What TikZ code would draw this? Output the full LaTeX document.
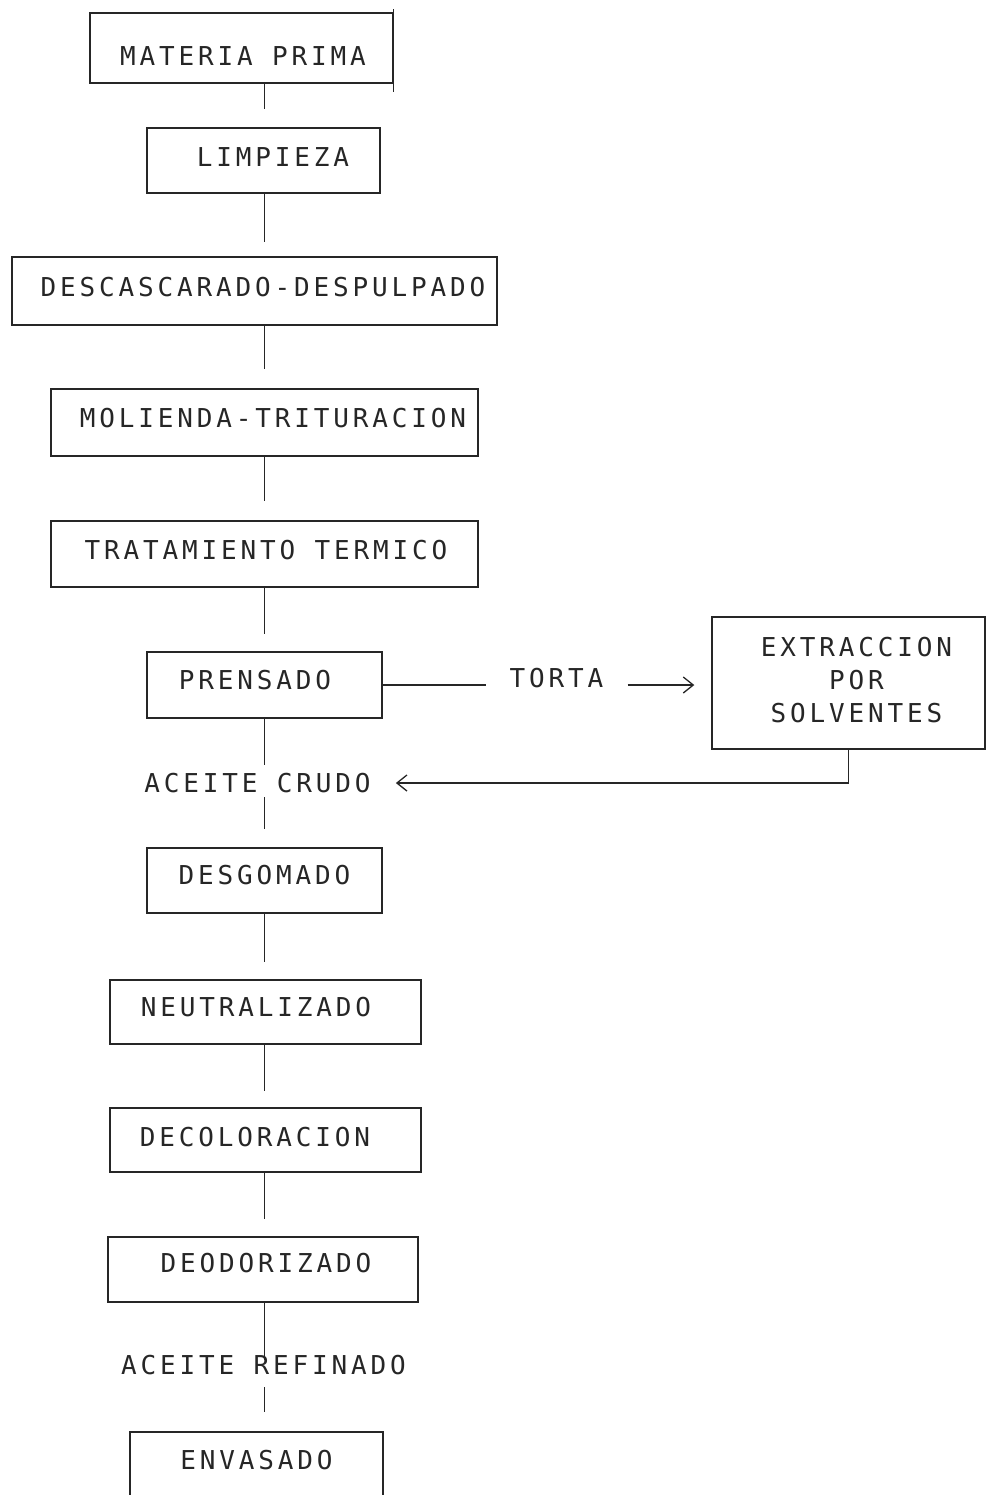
\documentclass[tikz,border=0pt]{standalone}
\usepackage{fontspec}
\newfontfamily\dotfont[LetterSpace=14.8]{DejaVu Sans Mono}
\usetikzlibrary{arrows.meta}
\begin{document}
\begin{tikzpicture}[x=1pt,y=-1pt,
  stagebox/.style={draw=black!85, line width=1.4pt, inner sep=0pt},
  lbl/.style={font=\dotfont\fontsize{26}{33}\selectfont, text=black!85, inner sep=0pt},
  flow/.style={draw=black!85, line width=1.4pt},
  barb/.style={-{Straight Barb[length=10pt,width=16pt,line width=1.3pt]}}
]
\useasboundingbox (0,0) rectangle (992,1495);
\clip (0,0) rectangle (992,1495);

\coordinate (spine) at (264.5,0);

% process stages
\node[stagebox, minimum width=303pt, minimum height=70pt,
  label={[lbl,xshift=1.5pt,yshift=-8pt]center:MATERIA PRIMA}] (mp) at (241.5,48) {};
\node[stagebox, minimum width=233pt, minimum height=65pt,
  label={[lbl,xshift=9.5pt,yshift=3.5pt]center:LIMPIEZA}] (limp) at (263.5,160.5) {};
\node[stagebox, minimum width=485pt, minimum height=68pt,
  label={[lbl,xshift=8.5pt,yshift=4pt]center:DESCASCARADO-DESPULPADO}] (desc) at (254.5,291) {};
\node[stagebox, minimum width=427pt, minimum height=67pt,
  label={[lbl,xshift=8.5pt,yshift=4.5pt]center:MOLIENDA-TRITURACION}] (mol) at (264.5,422.5) {};
\node[stagebox, minimum width=427pt, minimum height=66pt,
  label={[lbl,xshift=1.5pt,yshift=4pt]center:TRATAMIENTO TERMICO}] (trat) at (264.5,554) {};
\node[stagebox, minimum width=235pt, minimum height=66pt,
  label={[lbl,xshift=-9.5pt,yshift=5pt]center:PRENSADO}] (pren) at (264.5,685) {};
\node[stagebox, minimum width=273pt, minimum height=132pt,
  label={[lbl,align=center,xshift=8pt,yshift=3pt]center:{EXTRACCION\\POR\\SOLVENTES}}] (ext) at (848.5,683) {};
\node[stagebox, minimum width=235pt, minimum height=65pt,
  label={[lbl,xshift=0pt,yshift=5.5pt]center:DESGOMADO}] (desg) at (264.5,880.5) {};
\node[stagebox, minimum width=311pt, minimum height=64pt,
  label={[lbl,xshift=-9.5pt,yshift=5pt]center:NEUTRALIZADO}] (neut) at (265.5,1012) {};
\node[stagebox, minimum width=311pt, minimum height=64pt,
  label={[lbl,xshift=-10.5pt,yshift=3pt]center:DECOLORACION}] (deco) at (265.5,1140) {};
\node[stagebox, minimum width=310pt, minimum height=65pt,
  label={[lbl,xshift=3pt,yshift=6.5pt]center:DEODORIZADO}] (deod) at (263,1269.5) {};
\node[stagebox, minimum width=253pt, minimum height=88pt,
  label={[lbl,xshift=0pt,yshift=16pt]center:ENVASADO}] (envs) at (256.5,1476) {};

% the first box's right side runs past its corners
\draw[flow] ([yshift=3pt]mp.north east) -- ([yshift=-8pt]mp.south east);

% stream names
\node[lbl] (torta) at (556.5,678) {TORTA};
\node[lbl] (crudo) at (257.5,783) {ACEITE CRUDO};
\node[lbl] (refin) at (263.5,1365) {ACEITE REFINADO};

% main flow
\draw[flow, shorten >=18pt] (mp.south -| spine) -- (limp.north -| spine);
\draw[flow, shorten >=14pt] (limp.south -| spine) -- (desc.north -| spine);
\draw[flow, shorten >=19pt] (desc.south -| spine) -- (mol.north -| spine);
\draw[flow, shorten >=19pt] (mol.south -| spine) -- (trat.north -| spine);
\draw[flow, shorten >=17pt] (trat.south -| spine) -- (pren.north -| spine);
\draw[flow, shorten >=18pt] (pren.south -| spine) -- (crudo.center -| spine);
\draw[flow, shorten <=14pt, shorten >=18pt] (crudo.center -| spine) -- (desg.north -| spine);
\draw[flow, shorten >=17pt] (desg.south -| spine) -- (neut.north -| spine);
\draw[flow, shorten >=16pt] (neut.south -| spine) -- (deco.north -| spine);
\draw[flow, shorten >=17pt] (deco.south -| spine) -- (deod.north -| spine);
\draw[flow, shorten >=5pt] (deod.south -| spine) -- (refin.center -| spine);
\draw[flow, shorten <=22pt, shorten >=19pt] (refin.center -| spine) -- (envs.north -| spine);

% press cake to solvent extraction and back
\draw[flow, shorten >=23pt] (pren.east) -- (pren.east -| torta.west);
\draw[flow, barb, shorten <=24pt, shorten >=17pt] (torta.east |- pren.east) -- (ext.west |- pren.east);
\draw[flow, barb, shorten >=25pt] (ext.south) |- (crudo.east);
\end{tikzpicture}
\end{document}
